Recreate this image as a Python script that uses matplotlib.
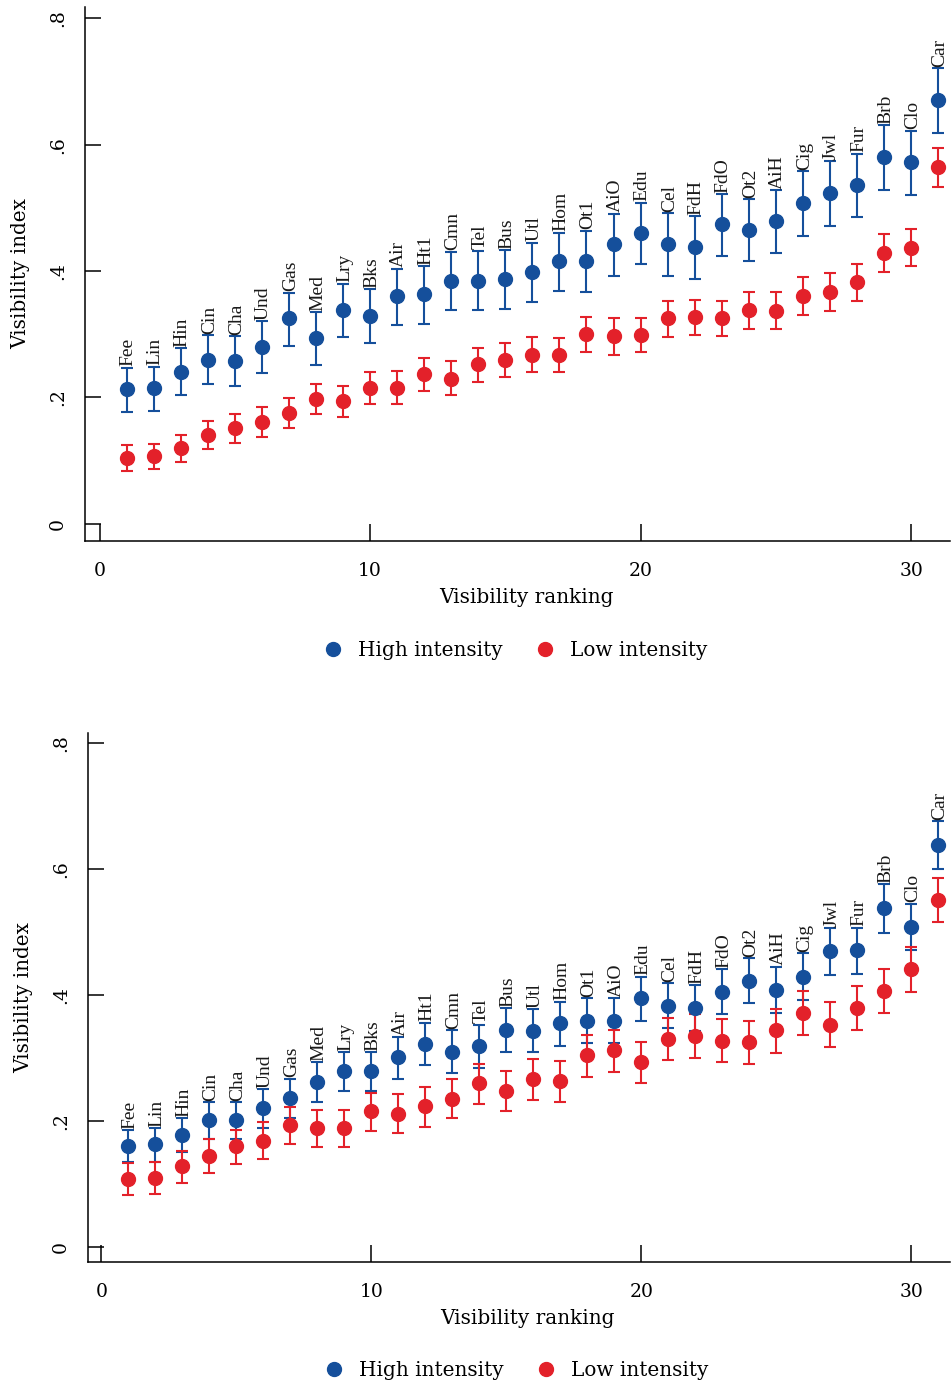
import numpy as np
import matplotlib.pyplot as plt
from matplotlib.lines import Line2D

# item codes, in ranking order
cats = ["Fee", "Lin", "Hin", "Cin", "Cha", "Und", "Gas", "Med", "Lry", "Bks",
        "Air", "Ht1", "Cmn", "Tel", "Bus", "Utl", "Hom", "Ot1", "AiO", "Edu",
        "Cel", "FdH", "FdO", "Ot2", "AiH", "Cig", "Jwl", "Fur", "Brb", "Clo", "Car"]
rank = np.arange(1, len(cats) + 1)

# top panel
hi1 = [.213, .215, .241, .260, .258, .280, .325, .294, .338, .329, .360, .363, .385, .385, .387, .399,
       .416, .416, .443, .460, .443, .438, .474, .465, .479, .507, .523, .536, .580, .572, .670]
hi1_up = [.247, .249, .278, .299, .297, .321, .366, .335, .380, .371, .404, .408, .431, .432, .433, .445,
          .461, .464, .491, .508, .492, .487, .522, .514, .528, .558, .574, .586, .631, .622, .721]
hi1_lo = [.177, .178, .204, .221, .218, .239, .282, .251, .295, .286, .315, .316, .338, .338, .340, .351,
          .369, .367, .393, .412, .393, .388, .424, .416, .428, .456, .472, .486, .528, .521, .619]
lo1 = [.104, .107, .120, .141, .152, .162, .176, .198, .194, .215, .215, .237, .230, .253, .260, .268,
       .267, .300, .297, .299, .325, .327, .325, .338, .337, .360, .367, .382, .429, .437, .564]
lo1_up = [.125, .126, .140, .163, .174, .185, .199, .222, .218, .240, .242, .263, .257, .279, .286, .295,
          .294, .328, .325, .326, .353, .355, .353, .367, .367, .390, .397, .411, .458, .467, .594]
lo1_lo = [.084, .087, .098, .118, .128, .138, .152, .174, .169, .190, .190, .210, .204, .225, .233, .241,
          .240, .272, .268, .272, .296, .299, .297, .309, .309, .331, .337, .353, .399, .408, .533]

# bottom panel
hi2 = [.160, .163, .177, .201, .201, .220, .236, .261, .279, .279, .301, .322, .310, .319, .345, .343,
       .355, .359, .359, .395, .383, .379, .405, .422, .408, .429, .469, .471, .538, .508, .638]
hi2_up = [.185, .188, .204, .230, .230, .250, .267, .293, .309, .309, .333, .356, .344, .353, .379, .377,
          .389, .395, .395, .429, .419, .415, .441, .458, .445, .466, .506, .507, .576, .545, .676]
hi2_lo = [.134, .135, .150, .172, .172, .189, .204, .230, .247, .247, .267, .288, .276, .284, .310, .309,
          .319, .324, .323, .358, .347, .342, .369, .387, .371, .392, .431, .433, .499, .471, .600]
lo2 = [.107, .109, .128, .145, .160, .168, .193, .188, .188, .215, .211, .223, .235, .260, .247, .266,
       .263, .304, .312, .293, .330, .334, .327, .325, .344, .371, .353, .379, .406, .441, .550]
lo2_up = [.133, .135, .152, .172, .186, .198, .222, .218, .218, .245, .242, .254, .267, .291, .279, .299,
          .295, .337, .345, .325, .364, .369, .361, .359, .378, .407, .388, .414, .441, .476, .586]
lo2_lo = [.083, .084, .101, .118, .132, .139, .164, .158, .158, .184, .180, .191, .204, .227, .215, .233,
          .230, .270, .278, .260, .296, .300, .293, .291, .307, .336, .318, .344, .371, .405, .515]

xticks = [0, 10, 20, 30]
yticks = [0, .2, .4, .6, .8]
ytick_labels = ["0", ".2", ".4", ".6", ".8"]

blue = "#154f9b"
red = "#e3212a"
serif = "DejaVu Serif"
labfont = "Liberation Serif"


def panel(ax, hi, hi_lo, hi_up, lo, lo_lo, lo_up, xlim, ylim):
    hi, hi_lo, hi_up = map(np.array, (hi, hi_lo, hi_up))
    lo, lo_lo, lo_up = map(np.array, (lo, lo_lo, lo_up))
    ax.errorbar(rank, hi, yerr=[hi - hi_lo, hi_up - hi], fmt="o", color=blue,
                ms=10, elinewidth=1.5, capsize=4.6, capthick=1.5)
    ax.errorbar(rank, lo, yerr=[lo - lo_lo, lo_up - lo], fmt="o", color=red,
                ms=10, elinewidth=1.5, capsize=4.6, capthick=1.5)
    for x, y, t in zip(rank, hi_up, cats):
        ax.annotate(t, (x, y), xytext=(1.2, 1), textcoords="offset points",
                    rotation=90, ha="center", va="bottom",
                    fontsize=14, family=labfont, color="#1a1a1a")

    ax.set_xlim(*xlim)
    ax.set_ylim(*ylim)
    ax.spines["top"].set_visible(False)
    ax.spines["right"].set_visible(False)
    for s in ("left", "bottom"):
        ax.spines[s].set_linewidth(1.1)
    ax.set_xticks(xticks)
    ax.set_yticks(yticks)
    ax.set_yticklabels(ytick_labels)
    ax.tick_params(axis="x", direction="in", length=12.2, width=1.1, pad=15,
                   labelsize=13.5)
    ax.tick_params(axis="y", direction="in", length=11.5, width=1.1, pad=13,
                   labelsize=13.5, labelrotation=90)
    for lab in ax.get_yticklabels():
        lab.set_va("center")
    for lab in ax.get_xticklabels() + ax.get_yticklabels():
        lab.set_family(serif)

    ax.set_xlabel("Visibility ranking", fontsize=14.4, family=serif)
    ax.set_ylabel("Visibility index", fontsize=14.4, family=serif)
    ax.xaxis.set_label_coords(0.51, -0.088)
    ax.yaxis.set_label_coords(-0.064, 0.5)

    handles = [Line2D([], [], marker="o", ls="", color=blue, ms=10),
               Line2D([], [], marker="o", ls="", color=red, ms=10)]
    ax.legend(handles, ["High intensity", "Low intensity"], loc="center",
              bbox_to_anchor=(0.497, -0.205), ncol=2, frameon=False,
              prop={"family": serif, "size": 14.4}, handletextpad=0.75,
              columnspacing=1.6, handlelength=1.0)


fig = plt.figure(figsize=(9.53, 13.86), dpi=100)
ax1 = fig.add_axes([0.0892, 0.6097, 0.9077, 0.3853])
ax2 = fig.add_axes([0.0923, 0.0895, 0.9045, 0.3817])

panel(ax1, hi1, hi1_lo, hi1_up, lo1, lo1_lo, lo1_up, (-0.536, 31.44), (-0.027, 0.818))
panel(ax2, hi2, hi2_lo, hi2_up, lo2, lo2_lo, lo2_up, (-0.5, 31.43), (-0.024, 0.816))

fig.savefig("out.png", dpi=100)
